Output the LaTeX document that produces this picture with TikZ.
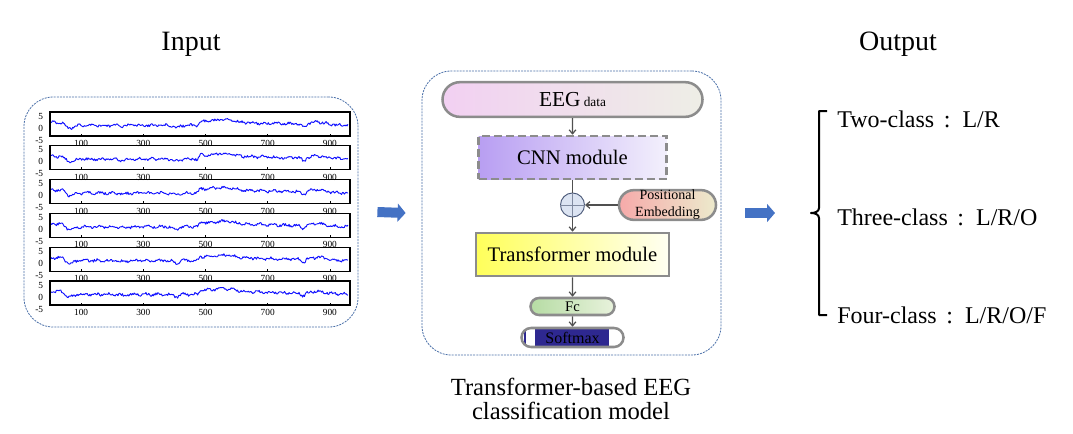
\documentclass[tikz,border=0pt]{standalone}
\usepackage{fontspec}
\setmainfont{Liberation Serif}
\usetikzlibrary{arrows.meta,positioning,shapes.misc}
\definecolor{framedash}{HTML}{4A6FA8}
\definecolor{boxgrey}{HTML}{8C8C8C}
\definecolor{flowgrey}{HTML}{505050}
\definecolor{bigblue}{HTML}{4472C4}
\definecolor{smaxblue}{HTML}{2E2890}
\definecolor{traceblue}{HTML}{1010FF}
\definecolor{addfill}{HTML}{DCE4F2}
\definecolor{addline}{HTML}{4A5878}
\tikzset{
  panel/.style     = {draw=framedash, dash pattern=on 1.5pt off 0.8pt, line width=0.6pt,
                      rounded corners=22pt, inner sep=0pt},
  pill/.style      = {rounded rectangle, draw=boxgrey, line width=1.9pt, inner sep=0pt, align=center},
  block/.style     = {rectangle, draw=boxgrey, line width=1.9pt, inner sep=0pt, align=center},
  flow/.style      = {-{Straight Barb[length=3pt,width=5pt]}, draw=flowgrey, line width=0.9pt},
  bigarrow/.style  = {-{Triangle[length=6pt,width=13.5pt]}, draw=bigblue, line width=7.5pt},
  trace/.style     = {traceblue, line width=0.7pt, line join=round},
  axlabel/.style   = {font=\fontsize{7}{8}\selectfont, inner sep=0.5pt},
  headline/.style  = {font=\fontsize{21}{25}\selectfont, inner sep=0pt, anchor=base},
  cls/.style       = {font=\fontsize{18}{21}\selectfont, anchor=base west, inner sep=0pt},
  modtext/.style   = {font=\fontsize{15.5}{18}\selectfont},
}

\begin{document}
\begin{tikzpicture}[x=0.75pt,y=-0.75pt,
  declare function={
    ramp(\x,\a,\b)=min(max((\x-\a)/(\b-\a),0),1);
    bump(\x,\c,\w)=exp(-(min(abs(\x-\c)/\w,3))^2);
    sig(\x)=1.2+1.3*(1-ramp(\x,40,55))-1.2*bump(\x,65,15)-0.5*bump(\x,235,15)
      -1.1*bump(\x,405,12)+1.8*ramp(\x,475,483)+1.0*bump(\x,560,40)
      -1.1*ramp(\x,500,750)-1.4*bump(\x,815,10)+0.8*bump(\x,860,25)
      -0.6*ramp(\x,880,940);
  }]
  \useasboundingbox (0,0) rectangle (1073,433);

  % input panel
  \node[headline] (intitle) at (191,50) {Input};
  \node[panel, minimum width=250.5pt, minimum height=172.5pt] (inbox) at (191,212) {};
  \foreach \k in {0,...,5}{
    \pgfmathsetmacro\ytop{112+33.8*\k}
    \pgfmathsetseed{23+7*\k}
    \draw[trace] plot[domain=0:958, samples=330, variable=\xx]
      ({50+0.311*\xx},{\ytop+16-2.2*(sig(\xx)+0.55*rand+0.35*sin(9*\xx+40*\k))});
    \draw[line width=0.8pt] (50,\ytop) rectangle (350,\ytop+24);
    \foreach \v in {100,300,...,900}{
      \draw[line width=0.4pt] ({50+0.311*\v},\ytop+24) -- ++(0,-2.5);
      \node[axlabel] (xl\k-\v) at ({50+0.311*\v},\ytop+31.5) {\v};
    }
    \node[axlabel, anchor=east] (yp\k) at (44,\ytop+4) {5};
    \node[axlabel, anchor=east] (yz\k) at (44,\ytop+16) {0};
    \node[axlabel, anchor=east] (yn\k) at (44,\ytop+28) {-5};
  }

  % model panel
  \node[panel, minimum width=224.25pt, minimum height=213pt] (model) at (571.5,213) {};
  \node[pill, minimum width=195pt, minimum height=26pt,
        left color={rgb,255:red,242;green,208;blue,242}, right color={rgb,255:red,238;green,238;blue,230},
        font=\fontsize{16}{19}\selectfont] (eeg) at (572.5,99.5) {EEG{\fontsize{10}{12}\selectfont{} data}};
  \node[block, dash pattern=on 6pt off 3pt, minimum width=141pt, minimum height=32.25pt,
        left color={rgb,255:red,184;green,158;blue,242}, right color={rgb,255:red,243;green,240;blue,252},
        modtext] (cnn) at (572.5,157.5) {CNN module};
  \node[circle, draw=addline, line width=0.7pt, fill=addfill, minimum size=18pt, inner sep=0pt] (add) at (572.5,205) {};
  \draw[addline!70, line width=0.6pt] (add.north) -- (add.south) (add.west) -- (add.east);
  \node[pill, minimum width=72.75pt, minimum height=21.75pt,
        left color={rgb,255:red,246;green,170;blue,170}, right color={rgb,255:red,236;green,234;blue,204},
        font=\fontsize{10.5}{12.75}\selectfont] (pe) at (667.5,205) {Positional\\Embedding};
  \node[block, minimum width=144.75pt, minimum height=32.25pt,
        left color={rgb,255:red,255;green,255;blue,90}, right color={rgb,255:red,255;green,255;blue,242},
        modtext] (tfm) at (572.5,254.5) {Transformer module};
  \node[pill, minimum width=63pt, minimum height=12.75pt,
        left color={rgb,255:red,182;green,220;blue,164}, right color={rgb,255:red,232;green,242;blue,220},
        font=\fontsize{11}{13}\selectfont] (fc) at (572.5,306.5) {Fc};
  \node[pill, minimum width=76.5pt, minimum height=14.25pt, fill=white,
        font=\fontsize{12}{14}\selectfont,
        path picture={
          \fill[smaxblue] ([xshift=9.75pt]path picture bounding box.south west)
            rectangle ([xshift=-11.25pt]path picture bounding box.north east);
          \fill[smaxblue] ([xshift=1.5pt]path picture bounding box.south west)
            rectangle ([xshift=3.6pt]path picture bounding box.north west);
        }] (smax) at (572.5,337.5) {Softmax};
  \draw[flow] (eeg) -- (cnn);
  \draw[draw=flowgrey, line width=0.9pt] (cnn) -- (add);
  \draw[flow] (add) -- (tfm);
  \draw[flow] (pe) -- (add);
  \draw[flow] (tfm) -- (fc);
  \draw[flow] (fc) -- (smax);
  \node[font=\fontsize{18.5}{18.5}\selectfont, align=center, inner sep=0pt] (caption) at (571,399)
    {Transformer-based EEG\\classification model};

  % output side
  \node[headline] (outtitle) at (898,50) {Output};
  \coordinate (bracetip) at (811,213);
  \draw[line width=1.5pt, line join=round] (827,111) -- (819,111) -- (819,208)
    to[out=-90,in=0] (bracetip) to[out=0,in=90] (819,218) -- (819,315) -- (827,315);
  \node[cls] (two) at (837,127) {Two-class\hspace{0.4em}:\hspace{0.5em}L/R};
  \node[cls] (three) at (837,225) {Three-class\hspace{0.4em}:\hspace{0.5em}L/R/O};
  \node[cls] (four) at (837,323) {Four-class\hspace{0.4em}:\hspace{0.5em}L/R/O/F};

  % big arrows
  \draw[bigarrow] ([xshift=14.25pt]inbox.east) -- ([xshift=-12pt]model.west);
  \draw[bigarrow] ([xshift=18pt]model.east) -- ([xshift=-27pt]bracetip);
\end{tikzpicture}
\end{document}
